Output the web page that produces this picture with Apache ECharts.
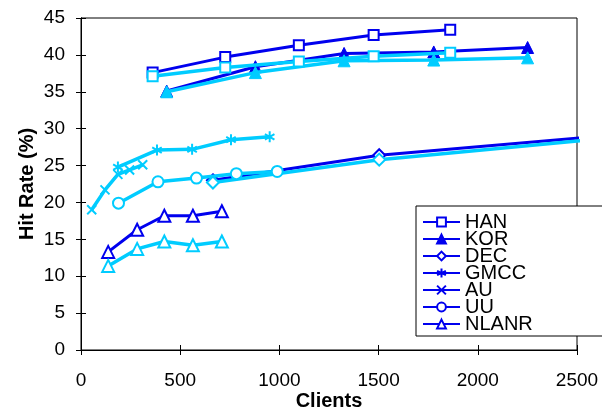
<!DOCTYPE html>
<html>
<head>
<meta charset="utf-8">
<script src="https://cdn.jsdelivr.net/npm/echarts@6/dist/echarts.min.js"></script>
<style>html,body{margin:0;padding:0;background:#fff}#c{width:602px;height:410px}</style>
</head>
<body>
<div id="c"></div>
<script>
const seriesNames = ['HAN', 'KOR', 'DEC', 'GMCC', 'AU', 'UU', 'NLANR'];
const xTicks = [0, 500, 1000, 1500, 2000, 2500];
const yTicks = [0, 5, 10, 15, 20, 25, 30, 35, 40, 45];

const hanX = [361, 727, 1098, 1475, 1861];
const hanDark = [37.6, 39.7, 41.3, 42.7, 43.4];
const hanCyan = [37.1, 38.3, 39.1, 39.8, 40.3];
const korX = [432, 879, 1326, 1778, 2251];
const korDark = [35.1, 38.4, 40.2, 40.4, 41.0];
const korCyan = [35.0, 37.6, 39.2, 39.3, 39.6];
const decX = [665, 1503, 2535];
const decDark = [23.0, 26.4, 28.8];
const decCyan = [22.7, 25.8, 28.4];
const gmccX = [186, 383, 560, 756, 951];
const gmccDark = [];
const gmccCyan = [24.8, 27.1, 27.2, 28.5, 28.9];
const auX = [54, 121, 186, 245, 311];
const auDark = [];
const auCyan = [19.0, 21.7, 23.8, 24.4, 25.1];
const uuX = [189, 388, 582, 783, 989];
const uuDark = [];
const uuCyan = [19.9, 22.8, 23.3, 23.9, 24.2];
const nlanrX = [137, 283, 420, 564, 710];
const nlanrDark = [13.3, 16.3, 18.2, 18.2, 18.8];
const nlanrCyan = [11.4, 13.7, 14.7, 14.2, 14.7];

const DARK = '#0000EE';
const CYAN = '#00CCFF';
const FONT = 'Liberation Sans, Arial, sans-serif';
const ASTER = 'path://M5,0L5,10M0.67,2.5L9.33,7.5M0.67,7.5L9.33,2.5';
const CROSS = 'path://M0,0L10,10M0,10L10,0';

const specs = [
  {name: 'HAN', x: hanX, dark: hanDark, cyan: hanCyan, symbol: 'rect', size: 10, fill: false},
  {name: 'KOR', x: korX, dark: korDark, cyan: korCyan, symbol: 'triangle', size: 12, fill: true},
  {name: 'DEC', x: decX, dark: decDark, cyan: decCyan, symbol: 'diamond', size: 12, fill: false, openEnd: true},
  {name: 'GMCC', x: gmccX, dark: gmccDark, cyan: gmccCyan, symbol: ASTER, size: 11, stroke: true},
  {name: 'AU', x: auX, dark: auDark, cyan: auCyan, symbol: CROSS, size: 9, stroke: true},
  {name: 'UU', x: uuX, dark: uuDark, cyan: uuCyan, symbol: 'circle', size: 11, fill: false},
  {name: 'NLANR', x: nlanrX, dark: nlanrDark, cyan: nlanrCyan, symbol: 'triangle', size: 12, fill: false}
];

function mkData(xs, ys, openEnd) {
  return ys.map((y, i) => (openEnd && i === ys.length - 1) ? {value: [xs[i], y], symbol: 'none'} : [xs[i], y]);
}
function mkSeries(s, color, ys, name, width, z) {
  let itemStyle;
  if (s.stroke) itemStyle = {color: color, borderColor: color, borderWidth: 2};
  else if (s.fill) itemStyle = {color: color, borderColor: color, borderWidth: 1};
  else itemStyle = {color: '#fff', borderColor: color, borderWidth: 2};
  return {
    type: 'line', name: name, data: mkData(s.x, ys, s.openEnd),
    symbol: s.symbol, symbolSize: s.size, showAllSymbol: true, symbolKeepAspect: true,
    lineStyle: {color: color, width: width}, itemStyle: itemStyle,
    clip: false, z: z, animation: false, emphasis: {disabled: true}
  };
}
const series = [];
specs.forEach(s => series.push(mkSeries(s, DARK, s.dark, s.name, 3, 2)));
specs.forEach(s => series.push(mkSeries(s, CYAN, s.cyan, s.name + ' ', 3.5, 3)));

const axisLine = {show: true, lineStyle: {color: '#000', width: 1}};
const chart = echarts.init(document.getElementById('c'), null, {renderer: 'canvas'});
chart.setOption({
  animation: false,
  backgroundColor: '#fff',
  grid: {left: 81, top: 18, width: 496, height: 332, containLabel: false, outerBoundsMode: 'none',
         show: true, borderColor: '#000', borderWidth: 1, backgroundColor: 'transparent'},
  xAxis: [
    {type: 'value', min: xTicks[0], max: xTicks[xTicks.length - 1], interval: 500, position: 'bottom',
     name: 'Clients', nameLocation: 'middle', nameGap: 41, nameMoveOverlap: false,
     nameTextStyle: {fontFamily: FONT, fontSize: 20, fontWeight: 'bold', color: '#000'},
     axisLine: axisLine, axisTick: {show: true, length: 5, lineStyle: {color: '#000'}},
     axisLabel: {fontFamily: FONT, fontSize: 19, color: '#000', margin: 21, formatter: v => String(v)}, splitLine: {show: false}},
    {type: 'value', min: xTicks[0], max: xTicks[xTicks.length - 1], interval: 500, position: 'bottom',
     axisLine: axisLine, axisTick: {show: true, inside: true, length: 5, lineStyle: {color: '#000'}},
     axisLabel: {show: false}, splitLine: {show: false}}
  ],
  yAxis: [
    {type: 'value', min: yTicks[0], max: yTicks[yTicks.length - 1], interval: 5, position: 'left',
     name: 'Hit Rate (%)', nameLocation: 'middle', nameGap: 44, nameRotate: 90, nameMoveOverlap: false,
     nameTextStyle: {fontFamily: FONT, fontSize: 20, fontWeight: 'bold', color: '#000'},
     axisLine: axisLine, axisTick: {show: true, length: 5, lineStyle: {color: '#000'}},
     axisLabel: {fontFamily: FONT, fontSize: 19, color: '#000', margin: 16, formatter: v => String(v)}, splitLine: {show: false}},
    {type: 'value', min: yTicks[0], max: yTicks[yTicks.length - 1], interval: 5, position: 'left',
     axisLine: axisLine, axisTick: {show: true, inside: true, length: 5, lineStyle: {color: '#000'}},
     axisLabel: {show: false}, splitLine: {show: false}}
  ],
  legend: {
    data: seriesNames, orient: 'vertical', left: 416, top: 206,
    padding: [6, 300, 2, 6], itemWidth: 37, itemHeight: 11, itemGap: -3,
    backgroundColor: '#fff', borderColor: '#000', borderWidth: 1,
    textStyle: {fontFamily: FONT, fontSize: 20, color: '#000'},
    selectedMode: false
  },
  series: series
});
</script>
</body>
</html>
